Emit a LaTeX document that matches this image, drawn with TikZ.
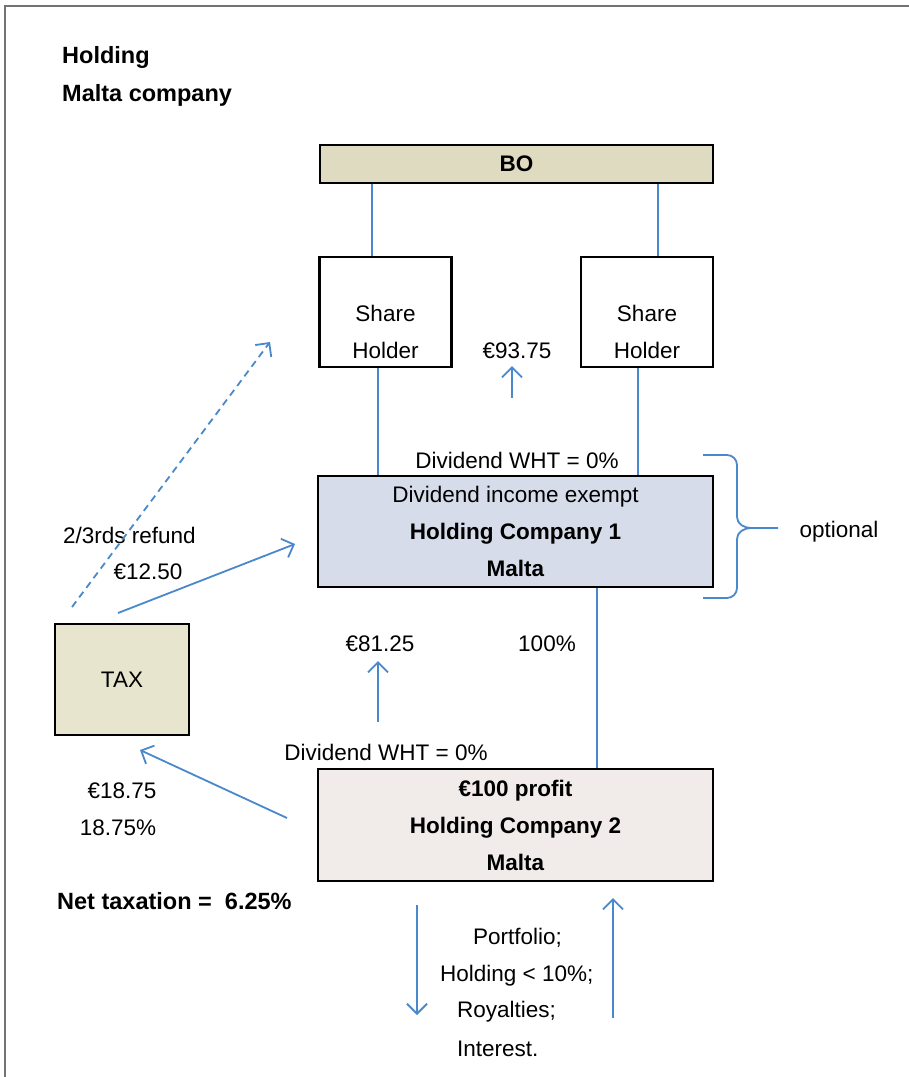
\documentclass[tikz,border=0pt]{standalone}
\usepackage{fontspec}
\setmainfont{Liberation Sans}
\usetikzlibrary{arrows.meta}
\definecolor{lnblue}{HTML}{4A88CC}
\definecolor{bobeige}{HTML}{DFDBC0}
\definecolor{taxbeige}{HTML}{E8E5CE}
\definecolor{hcblue}{HTML}{D6DCEA}
\definecolor{hcpink}{HTML}{F1ECEA}
\begin{document}
\begin{tikzpicture}[x=1pt,y=-1pt,
  box/.style={draw=black,line width=2.5pt,inner sep=0pt},
  txt/.style={font=\fontsize{22.5}{37}\selectfont,inner sep=0pt},
  bld/.style={font=\fontsize{22.5}{37}\selectfont\bfseries,inner sep=0pt},
  bigbld/.style={font=\fontsize{23.5}{37}\selectfont\bfseries,inner sep=0pt},
  conn/.style={draw=lnblue,line width=1.8pt},
  arr/.style={conn,-{Straight Barb[length=10pt,width=20pt]}},
  dasharr/.style={arr,dash pattern=on 7pt off 5pt}
]
\path[use as bounding box] (0,0) rectangle (909,1077);
\fill[white] (0,0) rectangle (909,1077);
\draw[black!55,line width=1.5pt] (5,1077) -- (5,6) -- (909,6);

% titles
\node[bigbld,anchor=west] (t1) at (62,57) {Holding};
\node[bigbld,anchor=west] (t2) at (62,95) {Malta company};

% boxes
\node[box,fill=bobeige,minimum width=393pt,minimum height=38pt,bld] (bo) at (516.5,164) {BO};
\node[box,minimum width=132pt,minimum height=110pt] (sh1) at (385.5,312) {};
\node[txt,align=center] (sh1t) at (385.5,332) {Share\\Holder};
\node[box,minimum width=132pt,minimum height=110pt] (sh2) at (647,312) {};
\node[txt,align=center] (sh2t) at (647,332) {Share\\Holder};
\node[box,fill=hcblue,minimum width=395pt,minimum height=111pt,txt,align=center] (hc1) at (515.5,531.5)
  {Dividend income exempt\\\textbf{Holding Company 1}\\\textbf{Malta}};
\node[box,fill=hcpink,minimum width=395pt,minimum height=112pt,txt,align=center] (hc2) at (515.5,825)
  {\textbf{€100 profit}\\\textbf{Holding Company 2}\\\textbf{Malta}};
\node[box,fill=taxbeige,minimum width=134pt,minimum height=111pt,txt] (tax) at (122,679.5) {TAX};

% labels
\node[txt] (v9375) at (517,351) {€93.75};
\node[txt] (wht1) at (517,460) {Dividend WHT = 0\%};
\node[txt] (opt) at (839,532) {optional};
\node[txt] (refund) at (129.5,535) {2/3rds refund};
\node[txt] (v1250) at (148,572) {€12.50};
\node[txt] (v8125) at (380,644) {€81.25};
\node[txt] (p100) at (547,644) {100\%};
\node[txt] (wht2) at (386,752) {Dividend WHT = 0\%};
\node[txt] (v1875) at (122,791) {€18.75};
\node[txt] (p1875) at (118,828) {18.75\%};
\node[bigbld,anchor=west] (net) at (57,901) {Net taxation =\ \ 6.25\%};
\node[txt,anchor=west] (l1) at (473,938) {Portfolio;};
\node[txt,anchor=west] (l2) at (440,976) {Holding < 10\%;};
\node[txt,anchor=west] (l3) at (457,1012) {Royalties;};
\node[txt,anchor=west] (l4) at (457,1049) {Interest.};

% vertical connectors
\coordinate (xa) at (372,0);
\coordinate (xb) at (658,0);
\coordinate (xc) at (378,0);
\coordinate (xd) at (638,0);
\coordinate (xe) at (597,0);
\draw[conn] (bo.south -| xa) -- (sh1.north -| xa);
\draw[conn] (bo.south -| xb) -- (sh2.north -| xb);
\draw[conn] (sh1.south -| xc) -- (hc1.north -| xc);
\draw[conn] (sh2.south -| xd) -- (hc1.north -| xd);
\draw[conn] (hc1.south -| xe) -- (hc2.north -| xe);

% flow arrows
\coordinate (a1s) at (512,398);
\coordinate (a1e) at (512,366);
\draw[arr] (a1s) -- (a1e);
\coordinate (a2s) at (378,722);
\coordinate (a2e) at (378,661);
\draw[arr] (a2s) -- (a2e);
\coordinate (a3s) at (287,818);
\coordinate (a3e) at (140,750);
\draw[arr] (a3s) -- (a3e);
\coordinate (a4s) at (118,613);
\coordinate (a4e) at (295,544);
\draw[arr] (a4s) -- (a4e);
\coordinate (a5s) at (72,607);
\coordinate (a5e) at (270,342);
\draw[dasharr] (a5s) -- (a5e);
\coordinate (a6s) at (417,905);
\coordinate (a6e) at (417,1015);
\draw[arr] (a6s) -- (a6e);
\coordinate (a7s) at (613,1018);
\coordinate (a7e) at (613,898);
\draw[arr] (a7s) -- (a7e);

% brace
\draw[conn] (703,455) -- (727,455) to[out=0,in=90] (737,465) -- (737,517)
  to[out=-90,in=180] (751,528) -- (778,528) -- (751,528)
  to[out=180,in=90] (737,539) -- (737,588) to[out=-90,in=0] (727,598) -- (703,598);
\end{tikzpicture}
\end{document}
